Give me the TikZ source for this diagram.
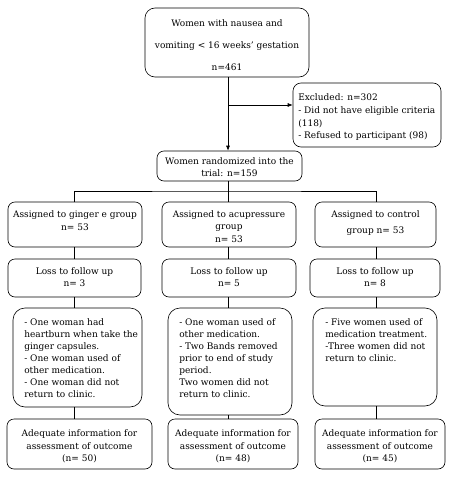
\documentclass[tikz,border=0pt]{standalone}
\usepackage{fontspec}
\setmainfont{DejaVu Serif}
\usepackage{tikz}
\usetikzlibrary{arrows.meta}
\usetikzlibrary{fit}

\tikzset{
	box/.style={draw, rounded corners=7pt, inner sep=0pt},
	ctxt/.style={inner sep=0pt, align=center, anchor=north, font=\fontsize{9}{12.5}\selectfont},
	txt/.style={inner sep=0pt, align=left, anchor=north west, font=\fontsize{9}{12}\selectfont},
	arr/.style={-{Latex[length=5pt,width=4pt]}}
}

\begin{document}
\begin{tikzpicture}[x=1pt, y=-1pt, line width=0.6pt]
		\useasboundingbox (0,0) rectangle (454,479);
		% columns for the connectors
		\coordinate (col1) at (74,0);
		\coordinate (col2) at (228,0);
		\coordinate (col3) at (376,0);
		% enrolment
		\node[box, rounded corners=10pt, fit={(145,8)(309,77)}](women){};
		\node[ctxt] (womentxt) at (227,19.2) {Women with nausea and\\[9.5pt] vomiting < 16 weeks' gestation\\[9.5pt] n=461};
		\node[box, rounded corners=8pt, fit={(293,83)(441,147)}](excluded){};
		\node[txt, font=\fontsize{9}{12.7}\selectfont] (excludedtxt) at (298,93.5) {Excluded: n=302\\ - Did not have eligible criteria\\ (118)\\ - Refused to participant (98)};
		\node[box, fit={(157,151)(302,181)}](rand){};
		\node[ctxt, font=\fontsize{9}{11.8}\selectfont] (randtxt) at (229.5,157.5) {Women randomized into the\\ trial: n=159};
		% allocation
		\foreach \n/\xa/\xb/\words in{
				1/8/142/{Assigned to ginger e group\\[0.5pt] n= 53},
				2/162/296/{Assigned to acupressure\\ group\\ n= 53},
				3/315/436/{Assigned to control\\[3.5pt] group n= 53}%
		}{
		\node[box, fit={(\xa,202)(\xb,247)}](assign\n){};
		\node[ctxt] (assigntxt\n) at ([yshift=-8.3pt]assign\n.north) {\words};
		}
		% follow up
		\foreach \n/\xa/\xb/\c in{
				1/8/141/3,
				2/162/296/5,
				3/310/440/8%
		}{
		\node[box, fit={(\xa,259)(\xb,297)}](loss\n){};
		\node[ctxt] (losstxt\n) at ([yshift=-8.2pt]loss\n.north) {Loss to follow up\\ n= \c};
		}
		% reasons
		\node[box, rounded corners=12pt, fit={(13,308)(142,407)}](reason1){};
		\node[txt] (reasontxt1) at (24,318.5) {- One woman had\\ heartburn when take the\\ ginger capsules.\\ - One woman used of\\ other medication.\\ - One woman did not\\ return to clinic.};
		\node[box, rounded corners=12pt, fit={(168,308)(292,415)}](reason2){};
		\node[txt] (reasontxt2) at (179,318.5) {- One woman used of\\ other medication.\\ - Two Bands removed\\ prior to end of study\\ period.\\ Two women did not\\ return to clinic.};
		\node[box, rounded corners=12pt, fit={(313,308)(437,406)}](reason3){};
		\node[txt] (reasontxt3) at (325,318.5) {- Five women used of\\ medication treatment.\\ -Three women did not\\ return to clinic.};
		% analysis
		\foreach \n/\xa/\xb/\c in{
				1/7/152/50,
				2/168/298/48,
				3/315/445/45%
		}{
		\node[box, fit={(\xa,419)(\xb,469)}](outcome\n){};
		\node[ctxt, font=\fontsize{9}{12.2}\selectfont] (outcometxt\n) at ([yshift=-11pt]outcome\n.north) {Adequate information for\\ assessment of outcome\\ (n= \c)};
		}
		% connectors
		\coordinate (branch) at (228,105);
		\coordinate (split) at (228,191);
		\draw[arr] (women.south -| col2) -- (rand.north -| col2);
		\draw[arr] (branch) -- (branch -| excluded.west);
		\draw (rand.south -| col2) -- (split);
		\draw (col1 |- assign1.north) |- (split) -| (col3 |- assign3.north);
		\draw (split) -- (col2 |- assign2.north);
		\foreach \i in {1,2,3}{
				\draw (col\i |- assign\i.south) -- (col\i |- loss\i.north);
				\draw (col\i |- loss\i.south) -- (col\i |- reason\i.north);
				\draw (col\i |- reason\i.south) -- (col\i |- outcome\i.north);
		}
\end{tikzpicture}
\end{document}
